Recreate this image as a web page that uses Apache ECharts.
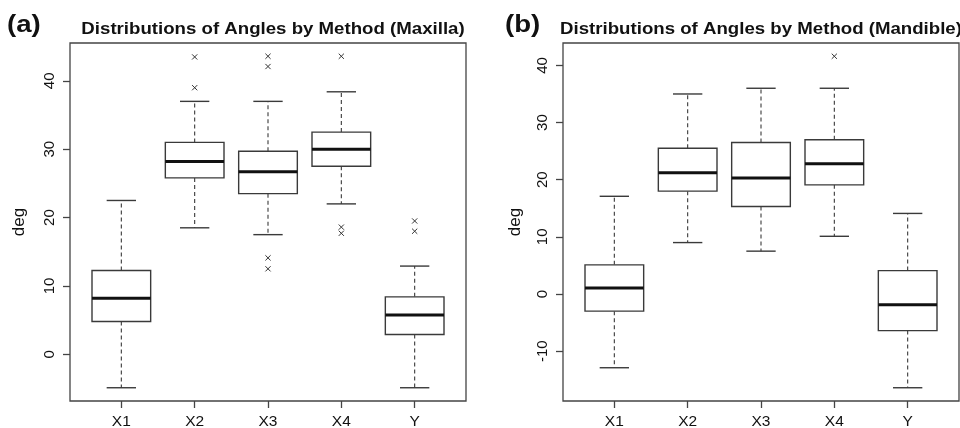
<!DOCTYPE html>
<html>
<head>
<meta charset="utf-8">
<script src="https://cdn.jsdelivr.net/npm/echarts@6/dist/echarts.min.js"></script>
<style>
html,body{margin:0;padding:0;background:#fff;}
#chart{width:960px;height:428px;}
</style>
</head>
<body>
<div id="chart"></div>
<script>
// ---- Data ----
const categories = ['X1', 'X2', 'X3', 'X4', 'Y'];

// Panel (a): Maxilla
const maxLow  = [-4.9, 18.5, 17.5, 22.0, -4.9];
const maxQ1   = [4.8, 25.8, 23.5, 27.5, 2.9];
const maxMed  = [8.2, 28.2, 26.7, 30.0, 5.75];
const maxQ3   = [12.25, 31.0, 29.7, 32.5, 8.4];
const maxHigh = [22.5, 37.0, 37.0, 38.4, 12.9];
const maxOutliers = [[2, 43.5], [2, 39.0], [3, 43.6], [3, 42.1], [3, 14.1], [3, 12.5],
                     [4, 43.6], [4, 18.6], [4, 17.7], [5, 19.5], [5, 18.0]];

// Panel (b): Mandible
const manLow  = [-12.9, 9.0, 7.5, 10.1, -16.4];
const manQ1   = [-3.0, 18.0, 15.3, 19.1, -6.4];
const manMed  = [1.05, 21.2, 20.3, 22.8, -1.9];
const manQ3   = [5.1, 25.5, 26.5, 27.0, 4.1];
const manHigh = [17.1, 35.0, 36.0, 36.0, 14.1];
const manOutliers = [[4, 41.6]];

const maxTicks = [0, 10, 20, 30, 40];
const manTicks = [-10, 0, 10, 20, 30, 40];

const titles = ['Distributions of Angles by Method (Maxilla)', 'Distributions of Angles by Method (Mandible)'];
const panelLabels = ['(a)', '(b)'];

// ---- Helpers ----
const FONT = '"Liberation Sans", Arial, Helvetica, sans-serif';
const LINE = '#3a3a3a';

function rows(low, q1, med, q3, high) {
  return categories.map((c, i) => [i + 1, low[i], q1[i], med[i], q3[i], high[i]]);
}
function limits(low, high, outl) {
  const vals = low.concat(high, outl.map(o => o[1]));
  const lo = Math.min(...vals), hi = Math.max(...vals);
  const pad = (hi - lo) * 0.04;
  return [lo - pad, hi + pad];
}

function renderBox(params, api) {
  const x = api.value(0);
  const low = api.value(1), q1 = api.value(2), med = api.value(3), q3 = api.value(4), high = api.value(5);
  const bl = api.coord([x - 0.4, q1]);
  const tr = api.coord([x + 0.4, q3]);
  const cLow = api.coord([x, low]);
  const cHigh = api.coord([x, high]);
  const cQ1 = api.coord([x, q1]);
  const cQ3 = api.coord([x, q3]);
  const mL = api.coord([x - 0.4, med]);
  const mR = api.coord([x + 0.4, med]);
  const capL = api.coord([x - 0.2, low]);
  const capR = api.coord([x + 0.2, low]);
  const capL2 = api.coord([x - 0.2, high]);
  const capR2 = api.coord([x + 0.2, high]);
  const solid = {stroke: LINE, lineWidth: 1.4, fill: null};
  const dashed = {stroke: LINE, lineWidth: 1.1, lineDash: [4, 3], fill: null};
  return {
    type: 'group',
    children: [
      {type: 'line', shape: {x1: cQ3[0], y1: cQ3[1], x2: cHigh[0], y2: cHigh[1]}, style: dashed},
      {type: 'line', shape: {x1: cQ1[0], y1: cQ1[1], x2: cLow[0], y2: cLow[1]}, style: dashed},
      {type: 'line', shape: {x1: capL[0], y1: capL[1], x2: capR[0], y2: capR[1]}, style: solid},
      {type: 'line', shape: {x1: capL2[0], y1: capL2[1], x2: capR2[0], y2: capR2[1]}, style: solid},
      {type: 'rect', shape: {x: bl[0], y: tr[1], width: tr[0] - bl[0], height: bl[1] - tr[1]},
        style: {stroke: LINE, lineWidth: 1.4, fill: '#fff'}},
      {type: 'line', shape: {x1: mL[0], y1: mL[1], x2: mR[0], y2: mR[1]},
        style: {stroke: '#111', lineWidth: 3}}
    ]
  };
}

function renderCross(params, api) {
  const c = api.coord([api.value(0), api.value(1)]);
  const s = 2.6;
  const st = {stroke: '#333', lineWidth: 1};
  return {
    type: 'group',
    children: [
      {type: 'line', shape: {x1: c[0] - s, y1: c[1] - s, x2: c[0] + s, y2: c[1] + s}, style: st},
      {type: 'line', shape: {x1: c[0] - s, y1: c[1] + s, x2: c[0] + s, y2: c[1] - s}, style: st}
    ]
  };
}

const panels = [
  {left: 70, rows: rows(maxLow, maxQ1, maxMed, maxQ3, maxHigh), outl: maxOutliers,
   lim: limits(maxLow, maxHigh, maxOutliers), ticks: maxTicks},
  {left: 563, rows: rows(manLow, manQ1, manMed, manQ3, manHigh), outl: manOutliers,
   lim: limits(manLow, manHigh, manOutliers), ticks: manTicks}
];

const GRID_W = 396, GRID_TOP = 43, GRID_H = 358;
const catPos = categories.map((c, i) => i + 1);

const option = {
  backgroundColor: '#fff',
  animation: false,
  grid: panels.map(p => ({
    left: p.left, top: GRID_TOP, width: GRID_W, height: GRID_H,
    outerBoundsMode: 'none', containLabel: false,
    show: true, borderColor: '#444', borderWidth: 1.3, backgroundColor: 'transparent'
  })),
  xAxis: panels.map((p, i) => ({
    type: 'value', gridIndex: i, min: 0.3, max: 5.7,
    splitLine: {show: false},
    axisLine: {show: false, onZero: false},
    axisTick: {show: true, length: 7, customValues: catPos, lineStyle: {color: '#444', width: 1.3}},
    axisLabel: {show: true, customValues: catPos, margin: 13,
      formatter: v => categories[Math.round(v) - 1] || '',
      fontFamily: FONT, fontSize: 15.5, color: '#111'}
  })),
  yAxis: panels.map((p, i) => ({
    type: 'value', gridIndex: i, min: p.lim[0], max: p.lim[1],
    name: 'deg', nameLocation: 'middle', nameRotate: 90, nameGap: i === 0 ? 42 : 39,
    nameTextStyle: {fontFamily: FONT, fontSize: 17, color: '#111'},
    splitLine: {show: false},
    axisLine: {show: false, onZero: false},
    axisTick: {show: true, length: 7, customValues: p.ticks, lineStyle: {color: '#444', width: 1.3}},
    axisLabel: {show: true, customValues: p.ticks, rotate: 90, margin: 13,
      fontFamily: FONT, fontSize: 15, color: '#111'}
  })),
  series: panels.flatMap((p, i) => [
    {type: 'custom', xAxisIndex: i, yAxisIndex: i, renderItem: renderBox,
     data: p.rows, encode: {x: 0, y: [1, 2, 3, 4, 5]}, z: 2},
    {type: 'custom', xAxisIndex: i, yAxisIndex: i, renderItem: renderCross,
     data: p.outl, encode: {x: 0, y: 1}, z: 3}
  ]),
  graphic: [
    {type: 'text', x: 7, y: 25, scaleX: 1.15, style: {text: panelLabels[0], font: 'bold 24px ' + FONT, fill: '#111', textVerticalAlign: 'middle'}},
    {type: 'text', x: 505, y: 25, scaleX: 1.15, style: {text: panelLabels[1], font: 'bold 24px ' + FONT, fill: '#111', textVerticalAlign: 'middle'}},
    {type: 'text', x: 273, y: 29, scaleX: 1.13, style: {text: titles[0], font: 'bold 16.5px ' + FONT, fill: '#111', textAlign: 'center', textVerticalAlign: 'middle'}},
    {type: 'text', x: 761, y: 29, scaleX: 1.13, style: {text: titles[1], font: 'bold 16.5px ' + FONT, fill: '#111', textAlign: 'center', textVerticalAlign: 'middle'}}
  ]
};

const chart = echarts.init(document.getElementById('chart'), null, {renderer: 'canvas'});
chart.setOption(option);
</script>
</body>
</html>
